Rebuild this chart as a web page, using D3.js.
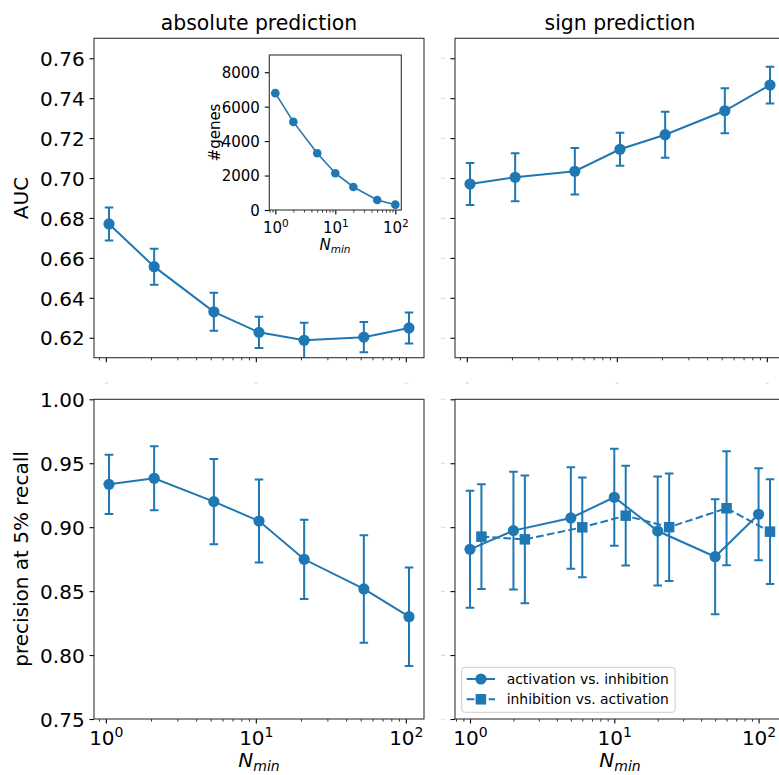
<!DOCTYPE html>
<html>
<head>
<meta charset="utf-8">
<script src="https://cdn.jsdelivr.net/npm/d3@7"></script>
<style>
  body { margin: 0; background: #fff; }
  text { font-family: "DejaVu Sans", sans-serif; }
</style>
</head>
<body>
<div id="chart"></div>
<script>
// data
var nMin = [1, 2, 5, 10, 20, 50, 100];

var absAuc    = [0.677, 0.6556, 0.633, 0.6227, 0.6187, 0.6203, 0.6249];
var absAucErr = [0.0083, 0.009, 0.0095, 0.0078, 0.0088, 0.0076, 0.0078];
var signAuc    = [0.697, 0.7004, 0.7034, 0.7144, 0.7217, 0.7337, 0.7466];
var signAucErr = [0.0105, 0.012, 0.0116, 0.0083, 0.0115, 0.0113, 0.0092];

var absPrec    = [0.9335, 0.9382, 0.920, 0.9048, 0.8749, 0.8517, 0.830];
var absPrecErr = [0.0232, 0.025, 0.0333, 0.0325, 0.031, 0.042, 0.0385];
var actPrec    = [0.8827, 0.8973, 0.9072, 0.9234, 0.897, 0.8769, 0.9101];
var actPrecErr = [0.0458, 0.046, 0.0397, 0.038, 0.0426, 0.045, 0.036];
var inhPrec    = [0.8926, 0.8905, 0.8999, 0.909, 0.900, 0.9148, 0.8965];
var inhPrecErr = [0.041, 0.050, 0.039, 0.039, 0.042, 0.0445, 0.041];

var geneCounts = [6785, 5116, 3296, 2134, 1337, 581, 310];

// x offsets used in the figure so the points don't overlap
var absShift = 1.05, actShift = 1.0, inhShift = 1.2;

var aucTicks  = [0.62, 0.64, 0.66, 0.68, 0.70, 0.72, 0.74, 0.76];
var precTicks = [0.75, 0.80, 0.85, 0.90, 0.95, 1.00];
var geneTicks = [0, 2000, 4000, 6000, 8000];
var logTicks  = [1, 10, 100];

var titles = ["absolute prediction", "sign prediction"];
var legendLabels = ["activation vs. inhibition", "inhibition vs. activation"];

var blue = "#1f77b4";
var W = 779, H = 775;

var svg = d3.select("#chart").append("svg")
  .attr("width", W)
  .attr("height", H);

var clipCount = 0;

// matplotlib-like 5% margin on a log axis
function logDomain(vals) {
  var lo = Math.log10(d3.min(vals)), hi = Math.log10(d3.max(vals));
  var p = 0.05 * (hi - lo);
  return [Math.pow(10, lo - p), Math.pow(10, hi + p)];
}

function minorTicks(dom) {
  var out = [];
  for (var k = Math.floor(Math.log10(dom[0])); k <= Math.ceil(Math.log10(dom[1])); k++) {
    for (var m = 2; m <= 9; m++) {
      var v = m * Math.pow(10, k);
      if (v >= dom[0] && v <= dom[1]) out.push(v);
    }
  }
  return out;
}

function makeAxes(box, xDom, yDom, o) {
  var g = svg.append("g").attr("transform", "translate(" + box.x + "," + box.y + ")");
  var x = d3.scaleLog().domain(xDom).range([0, box.w]);
  var y = d3.scaleLinear().domain(yDom).range([box.h, 0]);
  var id = "clip" + (clipCount++);
  g.append("clipPath").attr("id", id)
    .append("rect").attr("width", box.w).attr("height", box.h);

  // minor x ticks
  var mx = g.append("g").attr("transform", "translate(0," + box.h + ")")
    .call(d3.axisBottom(x).tickValues(minorTicks(xDom)).tickSize(2.6).tickFormat(""));
  mx.select(".domain").remove();
  mx.selectAll("text").remove();
  mx.selectAll("line").attr("stroke-width", 0.8);

  // major x ticks, labels 10^k
  var xa = g.append("g").attr("transform", "translate(0," + box.h + ")")
    .call(d3.axisBottom(x).tickValues(logTicks.filter(function(d) { return d >= xDom[0] && d <= xDom[1]; }))
      .tickSize(4.5).tickFormat(""));
  xa.select(".domain").remove();
  xa.selectAll("text").remove();
  xa.selectAll("line").attr("stroke-width", 1.1);
  var xt = xa.selectAll(".tick").append("text")
    .attr("y", o.xLabelY)
    .attr("text-anchor", "middle")
    .attr("fill", o.tiny ? "#888" : "#000")
    .attr("font-size", o.tiny ? 1.8 : o.fs);
  xt.append("tspan").text("10");
  xt.append("tspan")
    .attr("font-size", (o.tiny ? 1.8 : o.fs) * 0.7)
    .attr("dy", o.tiny ? -0.7 : -o.fs * 0.42)
    .text(function(d) { return Math.round(Math.log10(d)); });

  // y ticks
  var ya = g.append("g")
    .call(d3.axisLeft(y).tickValues(o.yTicks).tickSize(4.5).tickPadding(o.tinyY ? 5.5 : 4.9)
      .tickFormat(o.yFmt));
  ya.select(".domain").remove();
  ya.selectAll("line").attr("stroke-width", 1.1);
  ya.selectAll("text")
    .attr("font-size", o.tinyY ? 1.8 : o.fs)
    .attr("fill", o.tinyY ? "#888" : "#000")
    .attr("dy", "0.36em");

  var plot = g.append("g").attr("clip-path", "url(#" + id + ")");
  return { g: g, x: x, y: y, plot: plot, box: box };
}

function frame(ax) {
  ax.g.append("rect")
    .attr("width", ax.box.w)
    .attr("height", ax.box.h)
    .attr("fill", "none")
    .attr("stroke", "#333")
    .attr("stroke-width", 1.1);
}

function series(ax, shift, vals, errs, o) {
  var pts = nMin.map(function(n, i) { return { x: n * shift, v: vals[i], e: errs ? errs[i] : 0 }; });
  var line = d3.line()
    .x(function(d) { return ax.x(d.x); })
    .y(function(d) { return ax.y(d.v); });

  if (errs) {
    var c = o.cap;
    ax.plot.append("g").selectAll("path").data(pts).enter().append("path")
      .attr("d", function(d) {
        var px = ax.x(d.x), y0 = ax.y(d.v - d.e), y1 = ax.y(d.v + d.e);
        return "M" + px + "," + y0 + "V" + y1 +
               "M" + (px - c) + "," + y1 + "H" + (px + c) +
               "M" + (px - c) + "," + y0 + "H" + (px + c);
      })
      .attr("fill", "none")
      .attr("stroke", blue)
      .attr("stroke-width", o.lw);
  }

  ax.plot.append("path")
    .attr("d", line(pts))
    .attr("fill", "none")
    .attr("stroke", blue)
    .attr("stroke-width", o.lw)
    .attr("stroke-dasharray", o.dash || null);

  if (o.marker === "square") {
    ax.plot.append("g").selectAll("rect").data(pts).enter().append("rect")
      .attr("x", function(d) { return ax.x(d.x) - o.size / 2; })
      .attr("y", function(d) { return ax.y(d.v) - o.size / 2; })
      .attr("width", o.size)
      .attr("height", o.size)
      .attr("fill", blue);
  } else {
    ax.plot.append("g").selectAll("circle").data(pts).enter().append("circle")
      .attr("cx", function(d) { return ax.x(d.x); })
      .attr("cy", function(d) { return ax.y(d.v); })
      .attr("r", o.size)
      .attr("fill", blue);
  }
}

function nminLabel(cx, baseline, fs) {
  var t = svg.append("text")
    .attr("x", cx)
    .attr("y", baseline)
    .attr("text-anchor", "middle")
    .attr("font-size", fs)
    .attr("font-style", "italic");
  t.append("tspan").text("N");
  t.append("tspan").attr("font-size", fs * 0.7).attr("dy", fs * 0.2).text("min");
}

var fmt2 = d3.format(".2f");
var boxTL = { x: 94, y: 38.3, w: 330, h: 319.4 };
var boxTR = { x: 455, y: 38.3, w: 330, h: 319.4 };
var boxBL = { x: 94, y: 399.3, w: 330, h: 319.7 };
var boxBR = { x: 455, y: 399.3, w: 330, h: 319.7 };

var absX = logDomain(nMin.map(function(n) { return n * absShift; }));
var signX = logDomain(nMin.map(function(n) { return n * actShift; })
  .concat(nMin.map(function(n) { return n * inhShift; })));
var aucY = [0.61, 0.77];
var precY = [0.75, 1.0];

// --- top left: absolute AUC
var tl = makeAxes(boxTL, absX, aucY, { fs: 20, xLabelY: 26, tiny: true, yTicks: aucTicks, yFmt: fmt2 });
series(tl, absShift, absAuc, absAucErr, { lw: 2, cap: 4.3, size: 5.6 });
frame(tl);

// --- top right: sign AUC
var tr = makeAxes(boxTR, absX, aucY, { fs: 20, xLabelY: 26, tiny: true, tinyY: true, yTicks: aucTicks, yFmt: fmt2 });
series(tr, absShift, signAuc, signAucErr, { lw: 2, cap: 4.3, size: 5.6 });
frame(tr);

// --- bottom left: absolute precision
var bl = makeAxes(boxBL, absX, precY, { fs: 20, xLabelY: 26, yTicks: precTicks, yFmt: fmt2 });
series(bl, absShift, absPrec, absPrecErr, { lw: 2, cap: 4.3, size: 5.6 });
frame(bl);

// --- bottom right: sign precision, two directions
var br = makeAxes(boxBR, signX, precY, { fs: 20, xLabelY: 26, tinyY: true, yTicks: precTicks, yFmt: fmt2 });
series(br, actShift, actPrec, actPrecErr, { lw: 2, cap: 4.3, size: 5.6 });
series(br, inhShift, inhPrec, inhPrecErr, { lw: 2, cap: 4.3, size: 10.5, marker: "square", dash: "7.7,3.3" });
frame(br);

// legend
var lg = svg.append("g").attr("transform", "translate(461.7,667.3)");
lg.append("rect")
  .attr("width", 213.3).attr("height", 45)
  .attr("rx", 3)
  .attr("fill", "#fff").attr("fill-opacity", 0.8)
  .attr("stroke", "#ccc");
legendLabels.forEach(function(lab, i) {
  var cy = 11.7 + i * 20.3;
  lg.append("line")
    .attr("x1", 5).attr("x2", 33.3).attr("y1", cy).attr("y2", cy)
    .attr("stroke", blue).attr("stroke-width", 2)
    .attr("stroke-dasharray", i === 1 ? "7.7,3.3" : null);
  if (i === 0) {
    lg.append("circle").attr("cx", 19.2).attr("cy", cy).attr("r", 5.6).attr("fill", blue);
  } else {
    lg.append("rect").attr("x", 19.2 - 5.25).attr("y", cy - 5.25)
      .attr("width", 10.5).attr("height", 10.5).attr("fill", blue);
  }
  lg.append("text")
    .attr("x", 45)
    .attr("y", cy + 5)
    .attr("font-size", 13.9)
    .text(lab);
});

// --- inset: number of genes
var inset = makeAxes({ x: 269.3, y: 55, w: 132, h: 155 }, logDomain(nMin), [0, 9000],
  { fs: 15, xLabelY: 23, yTicks: geneTicks, yFmt: d3.format("d") });
inset.g.insert("rect", ":first-child")
  .attr("x", -2).attr("y", -2).attr("width", 136).attr("height", 159).attr("fill", "#fff");
series(inset, 1, geneCounts, null, { lw: 1.6, size: 4.3 });
frame(inset);
svg.append("text")
  .attr("transform", "translate(219.5,132.5) rotate(-90)")
  .attr("text-anchor", "middle")
  .attr("font-size", 15)
  .text("#genes");
nminLabel(335, 250, 15);

// titles and axis labels
svg.append("text").attr("x", 259).attr("y", 30).attr("text-anchor", "middle")
  .attr("font-size", 20.4).text(titles[0]);
svg.append("text").attr("x", 620).attr("y", 30).attr("text-anchor", "middle")
  .attr("font-size", 20.4).text(titles[1]);

svg.append("text")
  .attr("transform", "translate(28,198) rotate(-90)")
  .attr("text-anchor", "middle")
  .attr("font-size", 20)
  .text("AUC");
svg.append("text")
  .attr("transform", "translate(28,559) rotate(-90)")
  .attr("text-anchor", "middle")
  .attr("font-size", 20)
  .text("precision at 5% recall");

nminLabel(259, 767, 20);
nminLabel(620, 767, 20);
</script>
</body>
</html>
